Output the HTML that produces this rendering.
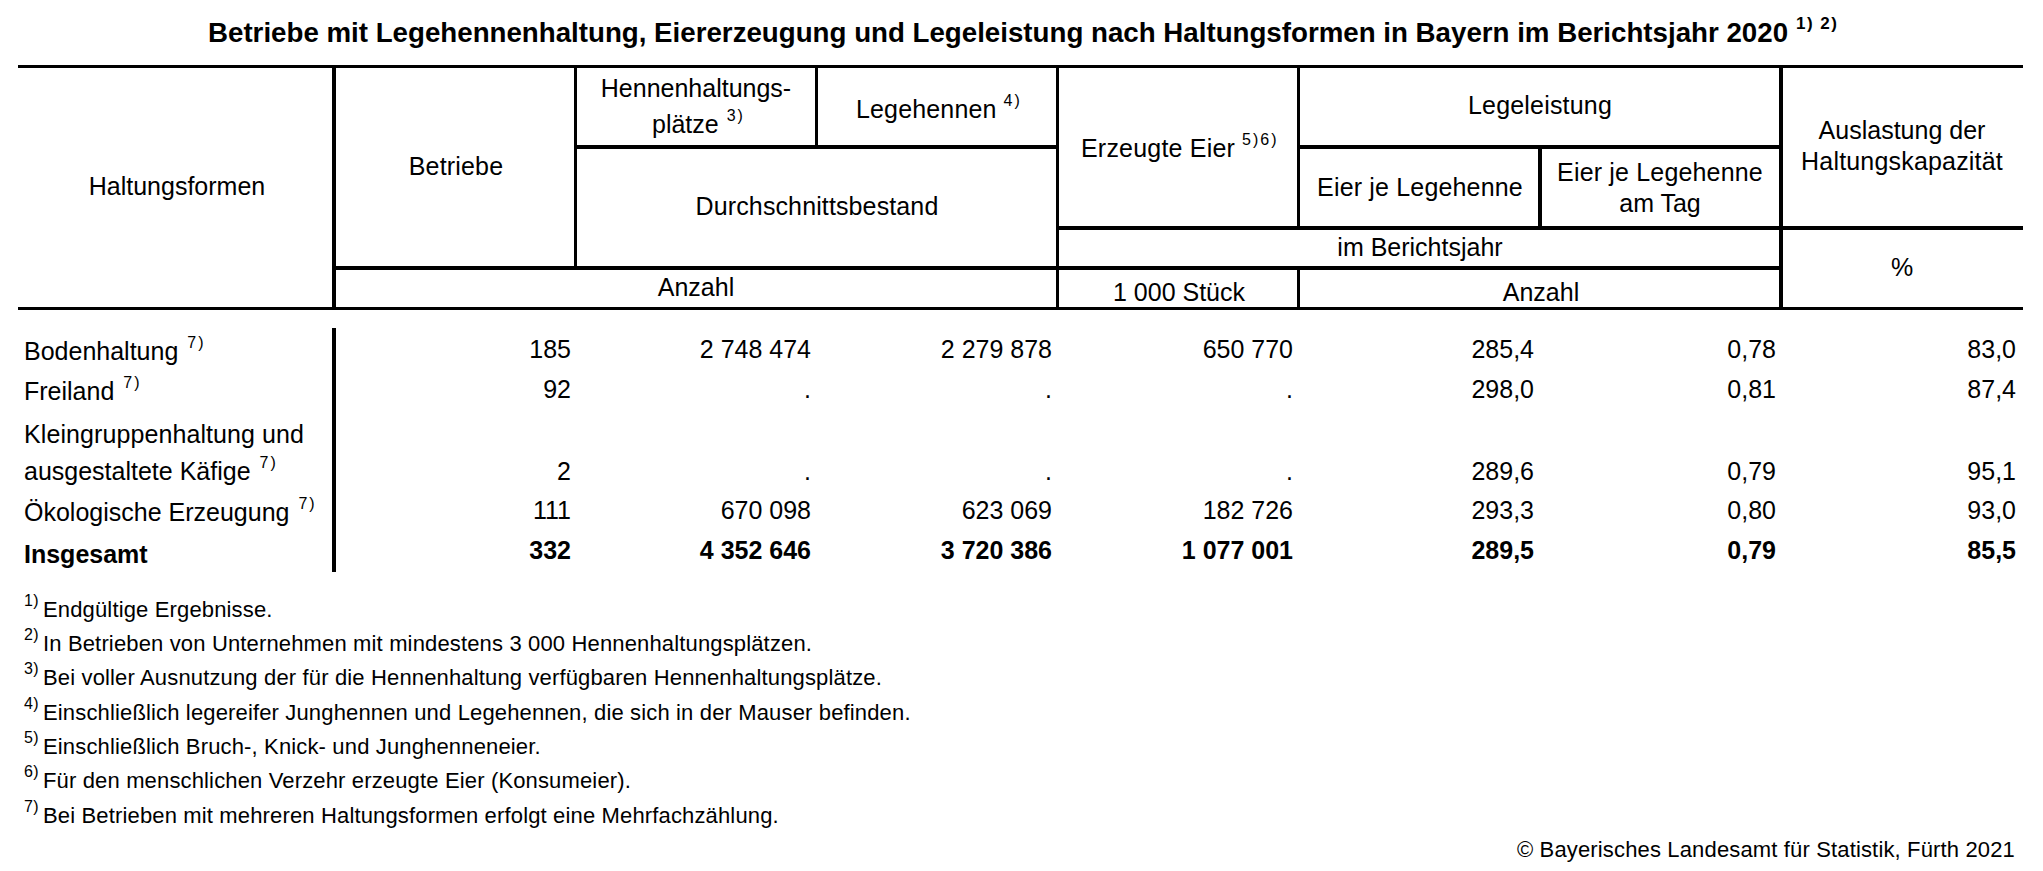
<!DOCTYPE html>
<html><head><meta charset="utf-8"><style>
html,body{margin:0;padding:0;background:#fff;}
body{width:2043px;height:871px;position:relative;overflow:hidden;font-family:"Liberation Sans", sans-serif;color:#000;}
.r{position:absolute;background:#000;}
.t{position:absolute;white-space:pre;line-height:normal;}
</style></head><body>
<div class="r" style="left:18px;top:65px;width:2005px;height:3px"></div>
<div class="r" style="left:574px;top:145px;width:485px;height:4px"></div>
<div class="r" style="left:1297px;top:145px;width:486px;height:4px"></div>
<div class="r" style="left:1056px;top:226px;width:967px;height:4px"></div>
<div class="r" style="left:332px;top:266px;width:1451px;height:4px"></div>
<div class="r" style="left:18px;top:307px;width:2005px;height:3px"></div>
<div class="r" style="left:332px;top:65px;width:4px;height:245px"></div>
<div class="r" style="left:574px;top:65px;width:3px;height:205px"></div>
<div class="r" style="left:815px;top:65px;width:3px;height:84px"></div>
<div class="r" style="left:1056px;top:65px;width:3px;height:245px"></div>
<div class="r" style="left:1297px;top:65px;width:3px;height:165px"></div>
<div class="r" style="left:1297px;top:266px;width:3px;height:44px"></div>
<div class="r" style="left:1538px;top:145px;width:4px;height:85px"></div>
<div class="r" style="left:1779px;top:65px;width:4px;height:245px"></div>
<div class="r" style="left:332px;top:328px;width:4px;height:244px"></div>
<div class="t" style="top:17px;font-size:27.7px;font-weight:700;left:208px;">Betriebe mit Legehennenhaltung, Eiererzeugung und Legeleistung nach Haltungsformen in Bayern im Berichtsjahr 2020<span style="font-size:17px;position:relative;top:-13px;margin-left:8px;letter-spacing:1.5px;">1) 2)</span></div>
<div class="t" style="top:172px;font-size:25px;left:-423px;width:1200px;text-align:center;">Haltungsformen</div>
<div class="t" style="top:152px;font-size:25px;letter-spacing:0.18px;left:-144px;width:1200px;text-align:center;">Betriebe</div>
<div class="t" style="top:74px;font-size:25px;left:96px;width:1200px;text-align:center;">Hennenhaltungs-</div>
<div class="t" style="top:110px;font-size:25px;left:652px;">plätze<span style="font-size:16px;position:relative;top:-12px;margin-left:8px;letter-spacing:2px;">3)</span></div>
<div class="t" style="top:95px;font-size:25px;letter-spacing:0.15px;left:856px;">Legehennen<span style="font-size:16px;position:relative;top:-12px;margin-left:7px;letter-spacing:2px;">4)</span></div>
<div class="t" style="top:192px;font-size:25px;letter-spacing:0.12px;left:217px;width:1200px;text-align:center;">Durchschnittsbestand</div>
<div class="t" style="top:273px;font-size:25px;left:96px;width:1200px;text-align:center;">Anzahl</div>
<div class="t" style="top:134px;font-size:25px;letter-spacing:0.2px;left:1081px;">Erzeugte Eier<span style="font-size:16px;position:relative;top:-12px;margin-left:7px;letter-spacing:2px;">5)6)</span></div>
<div class="t" style="top:91px;font-size:25px;letter-spacing:0.18px;left:940px;width:1200px;text-align:center;">Legeleistung</div>
<div class="t" style="top:173px;font-size:25px;letter-spacing:0.17px;left:820px;width:1200px;text-align:center;">Eier je Legehenne</div>
<div class="t" style="top:158px;font-size:25px;letter-spacing:0.17px;left:1060px;width:1200px;text-align:center;">Eier je Legehenne</div>
<div class="t" style="top:189px;font-size:25px;left:1060px;width:1200px;text-align:center;">am Tag</div>
<div class="t" style="top:233px;font-size:25px;left:820px;width:1200px;text-align:center;">im Berichtsjahr</div>
<div class="t" style="top:278px;font-size:25px;left:579px;width:1200px;text-align:center;">1 000 Stück</div>
<div class="t" style="top:278px;font-size:25px;left:941px;width:1200px;text-align:center;">Anzahl</div>
<div class="t" style="top:116px;font-size:25px;left:1302px;width:1200px;text-align:center;">Auslastung der</div>
<div class="t" style="top:147px;font-size:25px;letter-spacing:0.18px;left:1302px;width:1200px;text-align:center;">Haltungskapazität</div>
<div class="t" style="top:253px;font-size:25px;left:1302px;width:1200px;text-align:center;">%</div>
<div class="t" style="top:420px;font-size:25px;letter-spacing:0.09px;left:24px;">Kleingruppenhaltung und</div>
<div class="t" style="top:337px;font-size:25px;left:24px;">Bodenhaltung<span style="font-size:16px;position:relative;top:-12px;margin-left:9px;letter-spacing:2px;">7)</span></div>
<div class="t" style="top:335px;font-size:25px;left:-629px;width:1200px;text-align:right;">185</div>
<div class="t" style="top:335px;font-size:25px;left:-389px;width:1200px;text-align:right;">2 748 474</div>
<div class="t" style="top:335px;font-size:25px;left:-148px;width:1200px;text-align:right;">2 279 878</div>
<div class="t" style="top:335px;font-size:25px;left:93px;width:1200px;text-align:right;">650 770</div>
<div class="t" style="top:335px;font-size:25px;left:334px;width:1200px;text-align:right;">285,4</div>
<div class="t" style="top:335px;font-size:25px;left:576px;width:1200px;text-align:right;">0,78</div>
<div class="t" style="top:335px;font-size:25px;left:816px;width:1200px;text-align:right;">83,0</div>
<div class="t" style="top:377px;font-size:25px;left:24px;">Freiland<span style="font-size:16px;position:relative;top:-12px;margin-left:9px;letter-spacing:2px;">7)</span></div>
<div class="t" style="top:375px;font-size:25px;left:-629px;width:1200px;text-align:right;">92</div>
<div class="t" style="top:375px;font-size:25px;left:-389px;width:1200px;text-align:right;">.</div>
<div class="t" style="top:375px;font-size:25px;left:-148px;width:1200px;text-align:right;">.</div>
<div class="t" style="top:375px;font-size:25px;left:93px;width:1200px;text-align:right;">.</div>
<div class="t" style="top:375px;font-size:25px;left:334px;width:1200px;text-align:right;">298,0</div>
<div class="t" style="top:375px;font-size:25px;left:576px;width:1200px;text-align:right;">0,81</div>
<div class="t" style="top:375px;font-size:25px;left:816px;width:1200px;text-align:right;">87,4</div>
<div class="t" style="top:457px;font-size:25px;left:24px;">ausgestaltete Käfige<span style="font-size:16px;position:relative;top:-12px;margin-left:9px;letter-spacing:2px;">7)</span></div>
<div class="t" style="top:457px;font-size:25px;left:-629px;width:1200px;text-align:right;">2</div>
<div class="t" style="top:457px;font-size:25px;left:-389px;width:1200px;text-align:right;">.</div>
<div class="t" style="top:457px;font-size:25px;left:-148px;width:1200px;text-align:right;">.</div>
<div class="t" style="top:457px;font-size:25px;left:93px;width:1200px;text-align:right;">.</div>
<div class="t" style="top:457px;font-size:25px;left:334px;width:1200px;text-align:right;">289,6</div>
<div class="t" style="top:457px;font-size:25px;left:576px;width:1200px;text-align:right;">0,79</div>
<div class="t" style="top:457px;font-size:25px;left:816px;width:1200px;text-align:right;">95,1</div>
<div class="t" style="top:498px;font-size:25px;left:24px;">Ökologische Erzeugung<span style="font-size:16px;position:relative;top:-12px;margin-left:9px;letter-spacing:2px;">7)</span></div>
<div class="t" style="top:496px;font-size:25px;left:-629px;width:1200px;text-align:right;">111</div>
<div class="t" style="top:496px;font-size:25px;left:-389px;width:1200px;text-align:right;">670 098</div>
<div class="t" style="top:496px;font-size:25px;left:-148px;width:1200px;text-align:right;">623 069</div>
<div class="t" style="top:496px;font-size:25px;left:93px;width:1200px;text-align:right;">182 726</div>
<div class="t" style="top:496px;font-size:25px;left:334px;width:1200px;text-align:right;">293,3</div>
<div class="t" style="top:496px;font-size:25px;left:576px;width:1200px;text-align:right;">0,80</div>
<div class="t" style="top:496px;font-size:25px;left:816px;width:1200px;text-align:right;">93,0</div>
<div class="t" style="top:540px;font-size:25px;font-weight:700;left:24px;">Insgesamt</div>
<div class="t" style="top:536px;font-size:25px;font-weight:700;left:-629px;width:1200px;text-align:right;">332</div>
<div class="t" style="top:536px;font-size:25px;font-weight:700;left:-389px;width:1200px;text-align:right;">4 352 646</div>
<div class="t" style="top:536px;font-size:25px;font-weight:700;left:-148px;width:1200px;text-align:right;">3 720 386</div>
<div class="t" style="top:536px;font-size:25px;font-weight:700;left:93px;width:1200px;text-align:right;">1 077 001</div>
<div class="t" style="top:536px;font-size:25px;font-weight:700;left:334px;width:1200px;text-align:right;">289,5</div>
<div class="t" style="top:536px;font-size:25px;font-weight:700;left:576px;width:1200px;text-align:right;">0,79</div>
<div class="t" style="top:536px;font-size:25px;font-weight:700;left:816px;width:1200px;text-align:right;">85,5</div>
<div class="t" style="top:592px;font-size:16px;letter-spacing:0.3px;left:24px;">1)</div>
<div class="t" style="top:597px;font-size:22px;letter-spacing:0.15px;left:43px;">Endgültige Ergebnisse.</div>
<div class="t" style="top:626px;font-size:16px;letter-spacing:0.3px;left:24px;">2)</div>
<div class="t" style="top:631px;font-size:22px;letter-spacing:0.15px;left:43px;">In Betrieben von Unternehmen mit mindestens 3 000 Hennenhaltungsplätzen.</div>
<div class="t" style="top:660px;font-size:16px;letter-spacing:0.3px;left:24px;">3)</div>
<div class="t" style="top:665px;font-size:22px;letter-spacing:0.15px;left:43px;">Bei voller Ausnutzung der für die Hennenhaltung verfügbaren Hennenhaltungsplätze.</div>
<div class="t" style="top:695px;font-size:16px;letter-spacing:0.3px;left:24px;">4)</div>
<div class="t" style="top:700px;font-size:22px;letter-spacing:0.15px;left:43px;">Einschließlich legereifer Junghennen und Legehennen, die sich in der Mauser befinden.</div>
<div class="t" style="top:729px;font-size:16px;letter-spacing:0.3px;left:24px;">5)</div>
<div class="t" style="top:734px;font-size:22px;letter-spacing:0.15px;left:43px;">Einschließlich Bruch-, Knick- und Junghenneneier.</div>
<div class="t" style="top:763px;font-size:16px;letter-spacing:0.3px;left:24px;">6)</div>
<div class="t" style="top:768px;font-size:22px;letter-spacing:0.15px;left:43px;">Für den menschlichen Verzehr erzeugte Eier (Konsumeier).</div>
<div class="t" style="top:798px;font-size:16px;letter-spacing:0.3px;left:24px;">7)</div>
<div class="t" style="top:803px;font-size:22px;letter-spacing:0.15px;left:43px;">Bei Betrieben mit mehreren Haltungsformen erfolgt eine Mehrfachzählung.</div>
<div class="t" style="top:837px;font-size:22px;letter-spacing:0.15px;left:815px;width:1200px;text-align:right;">© Bayerisches Landesamt für Statistik, Fürth 2021</div>
</body></html>
